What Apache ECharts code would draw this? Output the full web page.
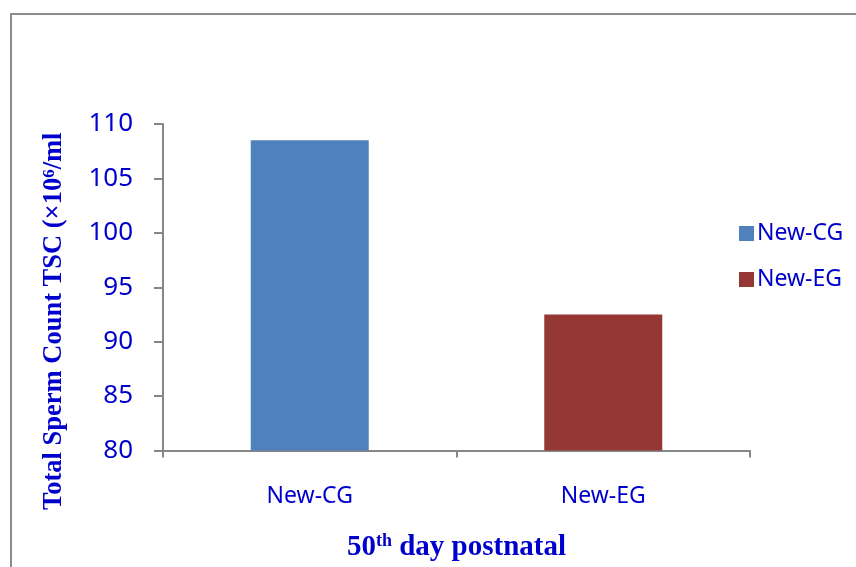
<!DOCTYPE html>
<html>
<head>
<meta charset="utf-8">
<script src="https://cdn.jsdelivr.net/npm/echarts@6/dist/echarts.min.js"></script>
<style>html,body{margin:0;padding:0;background:#fff}#c{width:856px;height:567px}</style>
</head>
<body>
<div id="c"></div>
<script>
const categories = ['New-CG', 'New-EG'];
const seriesNames = ['New-CG', 'New-EG'];
const cgValues = [108.5, null];
const egValues = [null, 92.5];
const yMin = 80, yMax = 110, yStep = 5;

const blue = '#0000CC';
const chart = echarts.init(document.getElementById('c'), null, {renderer: 'canvas'});
chart.setOption({
  animation: false,
  backgroundColor: '#fff',
  graphic: [{
    type: 'rect', z: -1, silent: true,
    shape: {x: 11, y: 14, width: 900, height: 600},
    style: {fill: 'none', stroke: '#8c8c8c', lineWidth: 2}
  }],
  grid: {left: 163, right: 106, top: 124, bottom: 115, containLabel: false},
  legend: {
    orient: 'vertical', left: 734, top: 217,
    itemWidth: 15, itemHeight: 15, itemGap: 23,
    icon: 'rect',
    data: seriesNames,
    textStyle: {color: blue, fontFamily: 'Noto Sans', fontSize: 23, padding: [0, 0, 0, -2]}
  },
  xAxis: {
    type: 'category', data: categories,
    axisLine: {lineStyle: {color: '#868686', width: 2}},
    axisTick: {show: true, length: 7, lineStyle: {color: '#868686', width: 2}},
    axisLabel: {color: blue, fontFamily: 'Noto Sans', fontSize: 23, margin: 34},
    name: '{b|50}{s|th}{b| day postnatal}',
    nameLocation: 'middle', nameGap: 82,
    nameTextStyle: {
      rich: {
        b: {fontFamily: 'Liberation Serif', fontWeight: 'bold', fontSize: 29, color: blue},
        s: {fontFamily: 'Liberation Serif', fontWeight: 'bold', fontSize: 18, color: blue, verticalAlign: 'top', padding: [0,0,12,0]}
      }
    }
  },
  yAxis: {
    type: 'value', min: yMin, max: yMax, interval: yStep,
    axisLine: {show: true, lineStyle: {color: '#868686', width: 2}},
    axisTick: {show: true, length: 9, lineStyle: {color: '#868686', width: 2}},
    splitLine: {show: false},
    axisLabel: {color: blue, fontFamily: 'Noto Sans', fontSize: 26, margin: 30},
    name: '{b|Total Sperm Count TSC (×10}{s|6}{b|/ml}',
    nameLocation: 'middle', nameGap: 95, nameRotate: 90,
    nameTextStyle: {
      padding: [0, 68, 0, 0],
      rich: {
        b: {fontFamily: 'Liberation Serif', fontWeight: 'bold', fontSize: 26.5, color: blue},
        s: {fontFamily: 'Liberation Serif', fontWeight: 'bold', fontSize: 17, color: blue, verticalAlign: 'top', padding: [0,0,10,0]}
      }
    }
  },
  series: [
    {name: seriesNames[0], type: 'bar', data: cgValues, barWidth: 118, barGap: '-100%', itemStyle: {color: '#4F81BD'}},
    {name: seriesNames[1], type: 'bar', data: egValues, barWidth: 118, barGap: '-100%', itemStyle: {color: '#953735'}}
  ]
});
</script>
</body>
</html>
